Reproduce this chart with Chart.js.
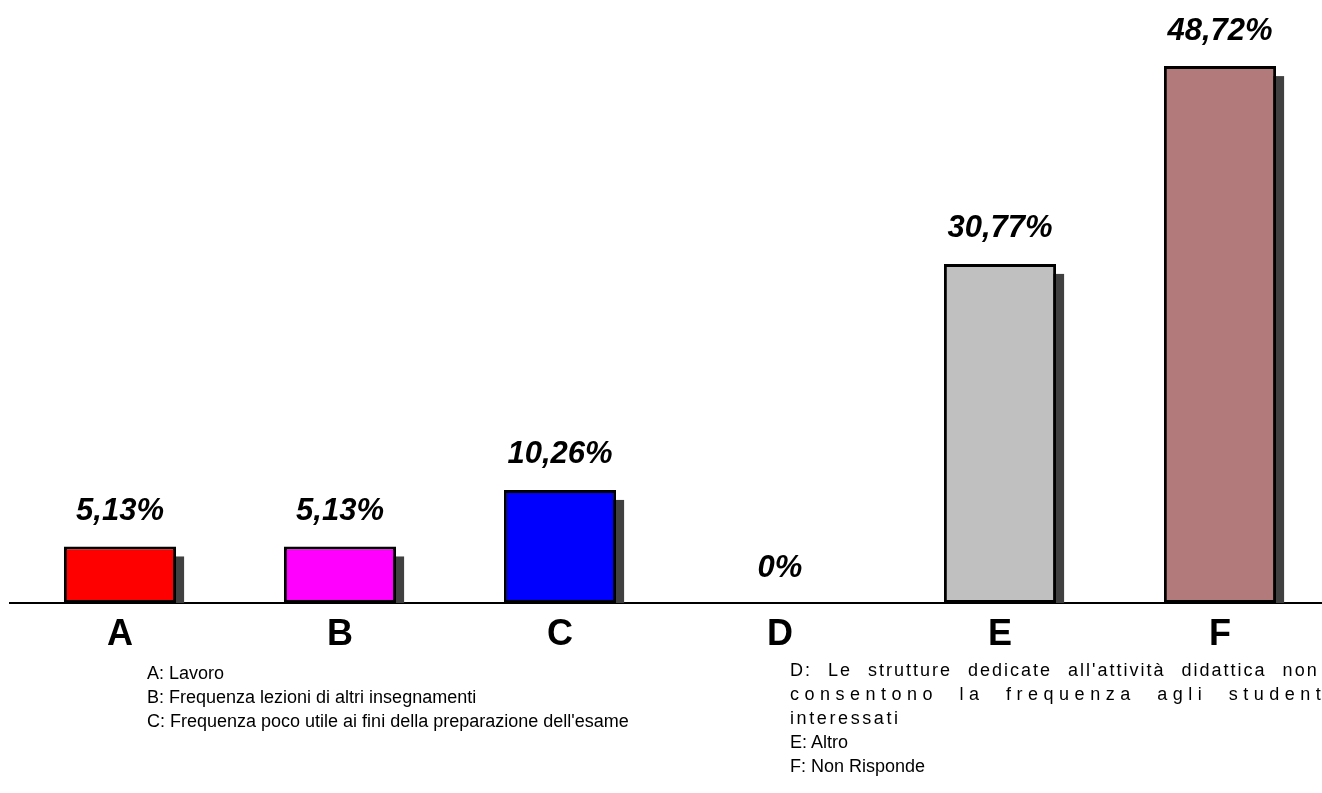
<!DOCTYPE html>
<html>
<head>
<meta charset="utf-8">
<script src="https://cdn.jsdelivr.net/npm/chart.js@4.4.1/dist/chart.umd.min.js"></script>
<style>
  html, body { margin: 0; padding: 0; background: #fff; overflow: hidden; }
  #wrap { position: relative; width: 1340px; height: 793px; }
  .note { position: absolute; font-family: "Liberation Sans", Arial, sans-serif; font-size: 18px; line-height: 24px; color: #000; white-space: nowrap; }
</style>
</head>
<body>
<div id="wrap">
  <canvas id="barChart"></canvas>
  <div class="note" style="left:147px; top:661px;">
    A: Lavoro<br>
    B: Frequenza lezioni di altri insegnamenti<br>
    C: Frequenza poco utile ai fini della preparazione dell'esame
  </div>
  <div class="note" style="left:790px; top:658px;">
    <span style="letter-spacing:2px; word-spacing:9px;">D: Le strutture dedicate all'attività didattica non</span><br>
    <span style="letter-spacing:5.5px; word-spacing:11px;">consentono la frequenza agli studenti</span><br>
    <span style="letter-spacing:2.6px;">interessati</span><br>
    E: Altro<br>
    F: Non Risponde
  </div>
</div>
<script>
const categories = ["A", "B", "C", "D", "E", "F"];
const values = [5.13, 5.13, 10.26, 0, 30.77, 48.72];
const barColors = ["#ff0000", "#ff00ff", "#0000ff", "#808080", "#c0c0c0", "#b27a7a"];

// shadow behind each bar
const shadowPlugin = {
  id: "shadow",
  beforeDatasetsDraw(chart) {
    const ctx = chart.ctx;
    const meta = chart.getDatasetMeta(0);
    ctx.save();
    ctx.fillStyle = "#404040";
    meta.data.forEach((bar, i) => {
      if (!values[i]) return;
      const p = bar.getProps(["x", "y", "base", "width"], true);
      const h = p.base - p.y - 10;
      if (h > 0) ctx.fillRect(p.x - p.width / 2 + 8, p.y + 10, p.width, h);
    });
    ctx.restore();
  }
};

// value labels above the bars
const valueLabels = {
  id: "valueLabels",
  afterDatasetsDraw(chart) {
    const ctx = chart.ctx;
    const meta = chart.getDatasetMeta(0);
    ctx.save();
    ctx.font = 'italic bold 31px "Liberation Sans", Arial, sans-serif';
    ctx.fillStyle = "#000";
    ctx.textAlign = "center";
    ctx.textBaseline = "middle";
    meta.data.forEach((bar, i) => {
      const txt = String(values[i]).replace(".", ",") + "%";
      ctx.fillText(txt, bar.x, bar.y - 35);
    });
    ctx.restore();
  }
};

const bar = document.getElementById("barChart");
new Chart(bar, {
  type: "bar",
  data: {
    labels: categories,
    datasets: [
      {
        data: values,
        backgroundColor: barColors,
        borderColor: "#000",
        borderWidth: 3,
        borderSkipped: false,
        barPercentage: 0.51,
        categoryPercentage: 1
      }
    ]
  },
  options: {
    responsive: true,
    maintainAspectRatio: false,
    animation: false,
    layout: { padding: { top: 52, left: 10, right: 10, bottom: 0 } },
    plugins: { legend: { display: false }, tooltip: { enabled: false } },
    scales: {
      x: {
        grid: { display: false, drawTicks: false },
        border: { display: true, color: "#000", width: 2 },
        ticks: {
          color: "#000",
          padding: 10,
          font: { family: '"Liberation Sans", Arial, sans-serif', size: 36, weight: "bold" }
        },
        afterFit(scale) { scale.height = 190; }
      },
      y: {
        display: false,
        min: 0,
        max: 50
      }
    }
  },
  plugins: [shadowPlugin, valueLabels]
});
</script>
</body>
</html>
